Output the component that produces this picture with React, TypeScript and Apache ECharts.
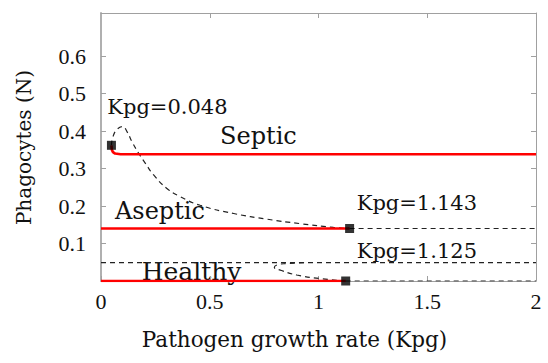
import React, { useEffect, useRef } from "react";
import * as echarts from "echarts";

// Tick values
const xTicks = [0, 0.5, 1, 1.5, 2];
const yTicks = [0.1, 0.2, 0.3, 0.4, 0.5, 0.6];

// Stable branches (red)
const septicStable: [number, number][] = [
  [0.048, 0.362], [0.05, 0.35], [0.055, 0.344], [0.065, 0.34], [0.09, 0.338], [0.2, 0.338], [2, 0.338],
];
const asepticStable: [number, number][] = [[0, 0.14], [1.143, 0.14]];
const healthyStable: [number, number][] = [[0, 0.0], [1.125, 0.0]];

// Unstable branches (dashed)
const septicUnstable: [number, number][] = [
  [0.048, 0.362], [0.055, 0.385], [0.075, 0.405], [0.099, 0.412], [0.12, 0.398], [0.142, 0.372],
  [0.173, 0.341], [0.204, 0.314], [0.242, 0.283], [0.303, 0.247], [0.364, 0.225], [0.456, 0.202],
  [0.61, 0.18], [0.763, 0.165], [0.916, 0.153], [1.069, 0.143], [1.143, 0.14],
];
const asepticUnstable: [number, number][] = [[1.143, 0.14], [2, 0.14]];
const thresholdLine: [number, number][] = [[0, 0.049], [2, 0.049]];
const healthyFold: [number, number][] = [
  [1.125, 0.0], [1.008, 0.0064], [0.9, 0.016], [0.83, 0.028], [0.797, 0.037], [0.81, 0.043],
  [0.855, 0.0465], [0.95, 0.049],
];
const healthyUnstable: [number, number][] = [[1.125, 0.0], [2, 0.0]];

// Bifurcation points
const bifPoints: [number, number][] = [[0.048, 0.362], [1.143, 0.14], [1.125, 0.0]];

const SERIF = "DejaVu Serif";
const TICKFONT = "Liberation Serif";
const TXT = "#111";

export default function App() {
  const ref = useRef<HTMLDivElement>(null);
  useEffect(() => {
    if (!ref.current) return;
    document.body.style.margin = "0";
    const chart = echarts.init(ref.current, undefined, { renderer: "svg" });
    const redLine = (data: [number, number][]) => ({
      type: "line", data, showSymbol: false, symbol: "none", smooth: false,
      lineStyle: { color: "#ff0000", width: 2.6 }, z: 3,
    });
    const dashLine = (data: [number, number][], smooth = false) => ({
      type: "line", data, showSymbol: false, symbol: "none", smooth,
      lineStyle: { color: "#222", width: 1.2, type: [5, 4] }, z: 2,
    });
    const axisLineStyle = { color: "#a0a0a0", width: 1 };
    const lab = (text: string, x: number, yMid: number, size: number) => ({
      type: "text", x, y: yMid - size / 2,
      style: { text, fontSize: size, fontFamily: SERIF, fill: TXT },
    });
    chart.setOption({
      animation: false,
      textStyle: { fontFamily: TICKFONT },
      grid: { left: 101, right: 12, top: 13, bottom: 82 },
      xAxis: [
        {
          type: "value", min: 0, max: 2, interval: 0.5, position: "bottom",
          axisLine: { show: true, onZero: false, lineStyle: axisLineStyle },
          axisTick: { show: true, inside: true, length: 5, lineStyle: axisLineStyle, customValues: xTicks },
          axisLabel: { color: TXT, fontFamily: TICKFONT, fontSize: 22, margin: 9, customValues: xTicks },
          splitLine: { show: false },
        },
        {
          type: "value", min: 0, max: 2, interval: 0.5, position: "top",
          axisLine: { show: true, onZero: false, lineStyle: axisLineStyle },
          axisTick: { show: true, inside: true, length: 5, lineStyle: axisLineStyle, customValues: [0.5, 1, 1.5] },
          axisLabel: { show: false },
          splitLine: { show: false },
        },
      ],
      yAxis: [
        {
          type: "value", min: 0, max: 0.715, position: "left",
          axisLine: { show: true, onZero: false, lineStyle: { color: "#b0b0b0", width: 2 } },
          axisTick: { show: true, inside: true, length: 5, lineStyle: axisLineStyle, customValues: yTicks },
          axisLabel: { color: TXT, fontFamily: TICKFONT, fontSize: 22, margin: 15, customValues: yTicks, formatter: (v: number) => String(Math.round(v * 10) / 10) },
          splitLine: { show: false },
        },
        {
          type: "value", min: 0, max: 0.715, position: "right",
          axisLine: { show: true, onZero: false, lineStyle: axisLineStyle },
          axisTick: { show: true, inside: true, length: 5, lineStyle: axisLineStyle, customValues: yTicks },
          axisLabel: { show: false },
          splitLine: { show: false },
        },
      ],
      series: [
        dashLine(thresholdLine),
        dashLine(septicUnstable, true),
        dashLine(asepticUnstable),
        dashLine(healthyFold, true),
        dashLine(healthyUnstable),
        redLine(septicStable),
        redLine(asepticStable),
        redLine(healthyStable),
        {
          type: "scatter", data: bifPoints, symbol: "rect", symbolSize: 9,
          itemStyle: { color: "#000" }, z: 5,
        },
      ],
      graphic: [
        { type: "text", x: 294.5, y: 339, style: { text: "Pathogen growth rate (Kpg)", fontSize: 21.5, fontFamily: SERIF, fill: TXT, align: "center", verticalAlign: "middle" } },
        { type: "text", x: 23.5, y: 147.5, rotation: Math.PI / 2, style: { text: "Phagocytes (N)", fontSize: 20, fontFamily: SERIF, fill: TXT, align: "center", verticalAlign: "middle" } },
        lab("Kpg=0.048", 107.3, 106.5, 21),
        lab("Septic", 220, 135.5, 24),
        lab("Aseptic", 115, 211, 24),
        lab("Healthy", 141.7, 271, 25),
        lab("Kpg=1.143", 356.7, 203, 21),
        lab("Kpg=1.125", 356.7, 251, 21),
      ],
    });
    return () => chart.dispose();
  }, []);
  return <div ref={ref} style={{ width: 548, height: 363 }} />;
}
